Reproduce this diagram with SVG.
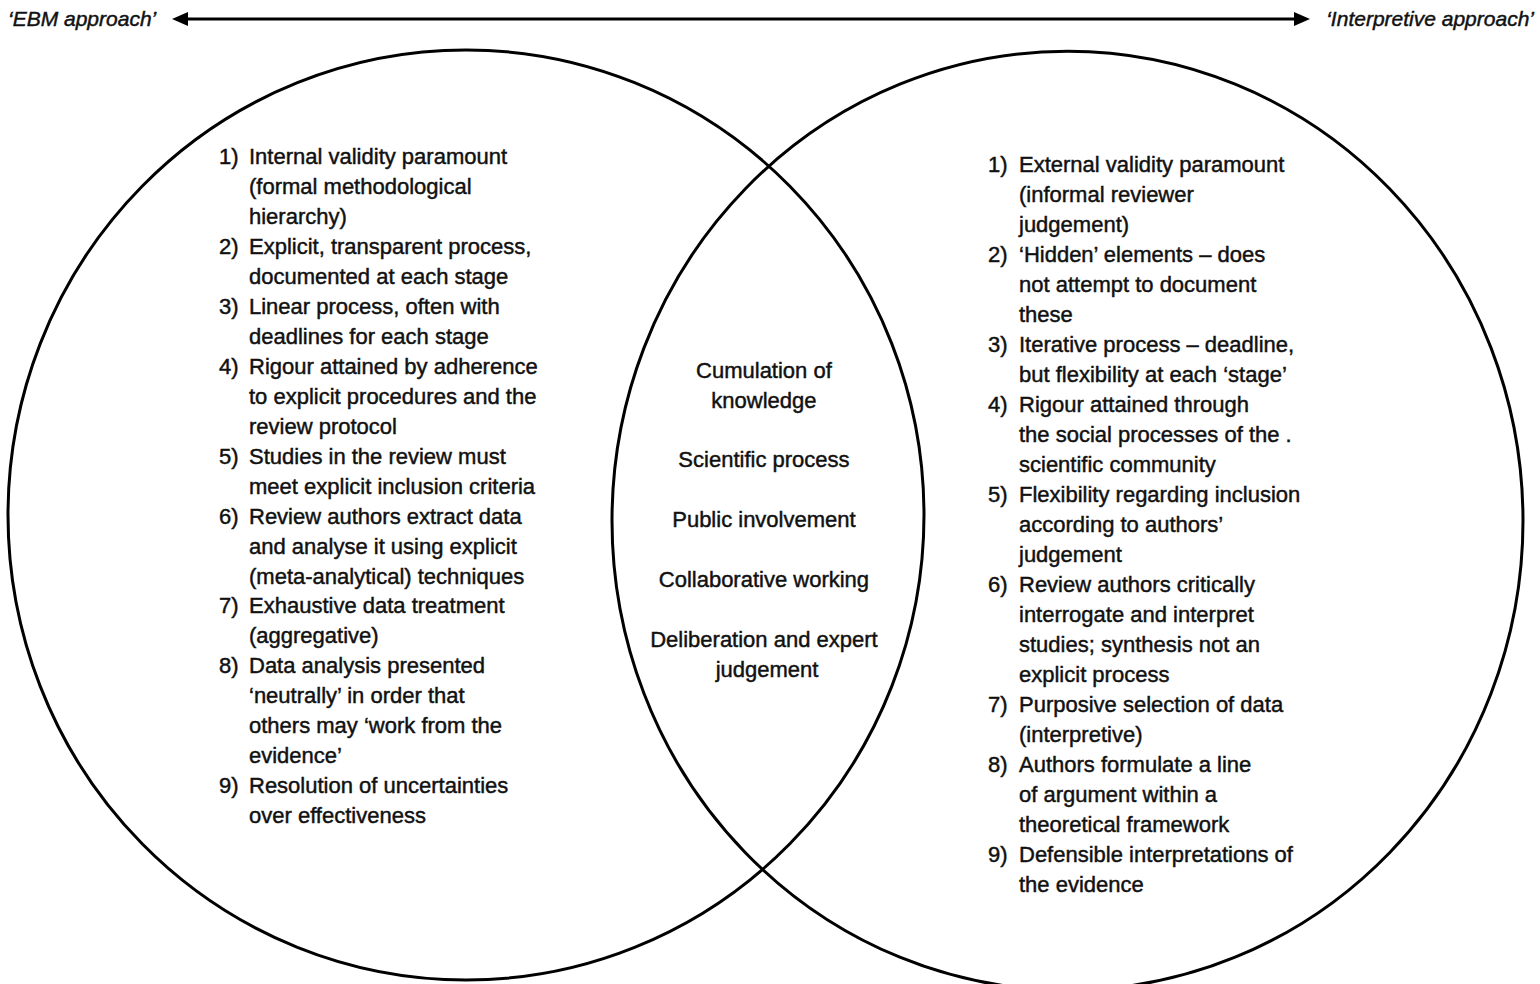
<svg xmlns="http://www.w3.org/2000/svg" width="1540" height="984" viewBox="0 0 1540 984">
<style>
  .ring { fill: none; stroke: #000; stroke-width: 3; }
  .t { font-family: "Liberation Sans", Arial, sans-serif; font-size: 22px; fill: #111; stroke: #111; stroke-width: 0.45; }
  .c { text-anchor: middle; }
  .hd { font-family: "Liberation Sans", Arial, sans-serif; font-size: 21px; font-style: italic; fill: #111; stroke: #111; stroke-width: 0.45; }
  .conn { stroke: #000; stroke-width: 3; fill: none; }
</style>
<defs>
  <marker id="ah" markerUnits="userSpaceOnUse" markerWidth="16" markerHeight="14" refX="2" refY="7" orient="auto-start-reverse">
    <path d="M0,0 L16,7 L0,14 z" fill="#000"/>
  </marker>
</defs>
<rect width="1540" height="984" fill="#fff"/>

<g id="connectors">
  <line class="conn" x1="186" y1="19" x2="1296" y2="19" marker-start="url(#ah)" marker-end="url(#ah)"/>
</g>

<g id="label-ebm">
  <text class="hd" x="8" y="26">‘EBM approach’</text>
</g>
<g id="label-interpretive">
  <text class="hd" x="1534" y="26" text-anchor="end">‘Interpretive approach’</text>
</g>

<g id="ebm-circle">
  <ellipse class="ring" cx="466" cy="515" rx="458" ry="465"/>
  <text class="t">
    <tspan x="219" y="164">1)</tspan><tspan x="249" y="164">Internal validity paramount</tspan>
    <tspan x="249" y="194">(formal methodological</tspan>
    <tspan x="249" y="224">hierarchy)</tspan>
    <tspan x="219" y="254">2)</tspan><tspan x="249" y="254">Explicit, transparent process,</tspan>
    <tspan x="249" y="284">documented at each stage</tspan>
    <tspan x="219" y="314">3)</tspan><tspan x="249" y="314">Linear process, often with</tspan>
    <tspan x="249" y="344">deadlines for each stage</tspan>
    <tspan x="219" y="374">4)</tspan><tspan x="249" y="374">Rigour attained by adherence</tspan>
    <tspan x="249" y="404">to explicit procedures and the</tspan>
    <tspan x="249" y="434">review protocol</tspan>
    <tspan x="219" y="464">5)</tspan><tspan x="249" y="464">Studies in the review must</tspan>
    <tspan x="249" y="494">meet explicit inclusion criteria</tspan>
    <tspan x="219" y="524">6)</tspan><tspan x="249" y="524">Review authors extract data</tspan>
    <tspan x="249" y="554">and analyse it using explicit</tspan>
    <tspan x="249" y="584">(meta-analytical) techniques</tspan>
    <tspan x="219" y="613">7)</tspan><tspan x="249" y="613">Exhaustive data treatment</tspan>
    <tspan x="249" y="643">(aggregative)</tspan>
    <tspan x="219" y="673">8)</tspan><tspan x="249" y="673">Data analysis presented</tspan>
    <tspan x="249" y="703">‘neutrally’ in order that</tspan>
    <tspan x="249" y="733">others may ‘work from the</tspan>
    <tspan x="249" y="763">evidence’</tspan>
    <tspan x="219" y="793">9)</tspan><tspan x="249" y="793">Resolution of uncertainties</tspan>
    <tspan x="249" y="823">over effectiveness</tspan>
  </text>
</g>

<g id="interpretive-circle">
  <ellipse class="ring" cx="1067.5" cy="520.7" rx="455.5" ry="469.5"/>
  <text class="t">
    <tspan x="988" y="172">1)</tspan><tspan x="1019" y="172">External validity paramount</tspan>
    <tspan x="1019" y="202">(informal reviewer</tspan>
    <tspan x="1019" y="232">judgement)</tspan>
    <tspan x="988" y="262">2)</tspan><tspan x="1019" y="262">‘Hidden’ elements – does</tspan>
    <tspan x="1019" y="292">not attempt to document</tspan>
    <tspan x="1019" y="322">these</tspan>
    <tspan x="988" y="352">3)</tspan><tspan x="1019" y="352">Iterative process – deadline,</tspan>
    <tspan x="1019" y="382">but flexibility at each ‘stage’</tspan>
    <tspan x="988" y="412">4)</tspan><tspan x="1019" y="412">Rigour attained through</tspan>
    <tspan x="1019" y="442">the social processes of the .</tspan>
    <tspan x="1019" y="472">scientific community</tspan>
    <tspan x="988" y="502">5)</tspan><tspan x="1019" y="502">Flexibility regarding inclusion</tspan>
    <tspan x="1019" y="532">according to authors’</tspan>
    <tspan x="1019" y="562">judgement</tspan>
    <tspan x="988" y="592">6)</tspan><tspan x="1019" y="592">Review authors critically</tspan>
    <tspan x="1019" y="622">interrogate and interpret</tspan>
    <tspan x="1019" y="652">studies; synthesis not an</tspan>
    <tspan x="1019" y="682">explicit process</tspan>
    <tspan x="988" y="712">7)</tspan><tspan x="1019" y="712">Purposive selection of data</tspan>
    <tspan x="1019" y="742">(interpretive)</tspan>
    <tspan x="988" y="772">8)</tspan><tspan x="1019" y="772">Authors formulate a line</tspan>
    <tspan x="1019" y="802">of argument within a</tspan>
    <tspan x="1019" y="832">theoretical framework</tspan>
    <tspan x="988" y="862">9)</tspan><tspan x="1019" y="862">Defensible interpretations of</tspan>
    <tspan x="1019" y="892">the evidence</tspan>
  </text>
</g>

<g id="overlap">
  <text class="t c">
    <tspan x="767" y="378">Cumulation of</tspan>
    <tspan x="767" y="408">knowledge</tspan>
    <tspan x="767" y="467">Scientific process</tspan>
    <tspan x="767" y="527">Public involvement</tspan>
    <tspan x="767" y="587">Collaborative working</tspan>
    <tspan x="767" y="647">Deliberation and expert</tspan>
    <tspan x="767" y="677">judgement</tspan>
  </text>
</g>
</svg>
